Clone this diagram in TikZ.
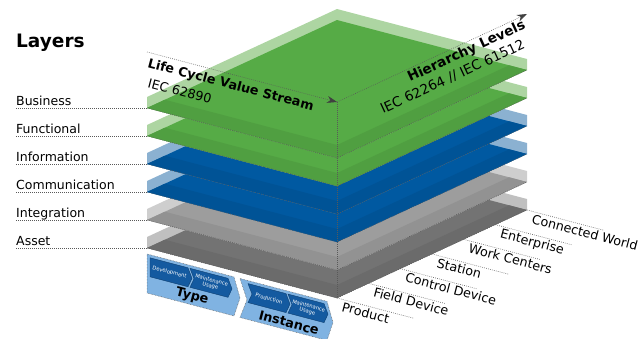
\documentclass[tikz,border=0pt]{standalone}
\usepackage{fontspec}
\setmainfont{DejaVu Sans}
\usetikzlibrary{arrows.meta,calc}
\definecolor{gmed}{RGB}{86,171,70}
\definecolor{glight}{RGB}{173,213,162}
\definecolor{bmed}{RGB}{0,89,161}
\definecolor{blight}{RGB}{139,177,209}
\definecolor{imed}{RGB}{157,157,157}
\definecolor{ilight}{RGB}{206,206,206}
\definecolor{amed}{RGB}{115,115,115}
\definecolor{alight}{RGB}{192,192,192}
\definecolor{chev}{RGB}{128,179,226}
\definecolor{chevdark}{RGB}{20,90,160}
\begin{document}
\begin{tikzpicture}[x=1pt,y=-1pt,
  dotline/.style={draw=black!65, line width=0.6pt, dash pattern=on 0.7pt off 1.3pt},
  axisarrow/.style={dotline, -{Stealth[length=10pt,width=7pt,color=black!75]}},
  lbl/.style={inner sep=0pt, font=\fontsize{12.5}{14}\selectfont},
  hlbl/.style={inner sep=0pt, font=\fontsize{12.7}{14}\selectfont, anchor=base west, rotate=-14.75},
  axbold/.style={inner sep=0pt, font=\bfseries\fontsize{12.8}{14}\selectfont},
  chevout/.style={fill=chev, draw=black!60, line width=0.5pt, dash pattern=on 0.6pt off 0.9pt},
  chevin/.style={fill=chevdark, draw=chevdark!70!black, line width=0.4pt},
  tiny/.style={inner sep=0pt, text=white, align=center, font=\fontsize{5.2}{5.6}\selectfont, rotate=-14.75},
]
\useasboundingbox (0,0) rectangle (643,338);

% layers, bottom first
\foreach \i/\lc/\mc in {5/alight/amed, 4/ilight/imed, 3/blight/bmed, 2/blight/bmed, 1/glight/gmed, 0/glight/gmed} {
  \pgfmathsetmacro\d{28*\i}
  \coordinate (L\i) at (147,108+\d);
  \coordinate (B\i) at (337,20+\d);
  \coordinate (R\i) at (527,70+\d);
  \coordinate (F\i) at (337,158+\d);
  \fill[\lc] (147,97+\d) -- (337,9+\d) -- (527,59+\d) -- (R\i) -- (F\i) -- (L\i) -- cycle;
  \fill[\mc] (L\i) -- (B\i) -- (R\i) -- (F\i) -- cycle;
  \begin{scope}
    \clip (L\i) -- (B\i) -- (R\i) -- (F\i) -- cycle;
    \fill[\mc!93!black] (L\i) -- (F\i) -- (R\i) -- ++(0,-13) -- ($(F\i)+(0,-13)$) -- ($(L\i)+(0,-13)$) -- cycle;
  \end{scope}
  \draw[dotline] (L\i) -- (F\i) -- (R\i);
}

% axes
\coordinate (A0) at (147,52);
\coordinate (O) at (337,102);
\coordinate (H) at (527,14);
\draw[dotline] (O) -- (F5);
\draw[axisarrow] (A0) -- (O);
\draw[axisarrow] (O) -- (H);

\node[axbold, anchor=base west, rotate=-14.75] (lcvs) at (147,67) {Life Cycle Value Stream};
\node[lbl, anchor=base west, rotate=-14.75, font=\fontsize{12.7}{14}\selectfont] (iec1) at (147,87) {IEC 62890};
\node[axbold, anchor=base west, rotate=24.85, font=\bfseries\fontsize{13.6}{15}\selectfont] (hl) at (410,82) {Hierarchy Levels};
\node[lbl, anchor=base west, rotate=24.85, font=\fontsize{13.6}{15}\selectfont] (iec2) at (383,114) {IEC 62264 // IEC 61512};

% title and layer labels
\node[inner sep=0pt, anchor=base west, font=\bfseries\fontsize{18.5}{20}\selectfont] (title) at (16,47) {Layers};
\foreach \i/\t in {0/Business,1/Functional,2/Information,3/Communication,4/Integration,5/Asset} {
  \node[lbl, anchor=base west] (lab\i) at (16,105+28*\i) {\t};
  \coordinate (ls\i) at (16,108+28*\i);
  \draw[dotline] (ls\i) -- (L\i);
}

% hierarchy level labels
\foreach \k/\t in {0/Product,1/Field Device,2/Control Device,3/Station,4/Work Centers,5/Enterprise,6/Connected World} {
  \coordinate (P\k) at ($(F5)!\k/6!(R5)$);
  \coordinate (Q\k) at ($(P\k)+(77,20.3)$);
  \draw[dotline] (P\k) -- (Q\k);
  \node[hlbl] (h\k) at ($(P\k)+(4,13)$) {\t};
}

% life cycle chevrons
\begin{scope}[shift={(147,254)}, yslant=-0.2632]
  \draw[chevout] (0,0) -- (87,0) -- (93,19.5) -- (87,39) -- (0,39) -- cycle;
  \draw[chevin] (3,3) -- (41,3) -- (45,12.5) -- (41,22) -- (3,22) -- cycle;
  \draw[chevin] (43,3) -- (81,3) -- (85,12.5) -- (81,22) -- (43,22) -- (47,12.5) -- cycle;
  \node[tiny] (dev) at (22.5,12.5) {Development};
  \node[tiny] (mu1) at (64,12.5) {Maintenance\\Usage};
  \node[inner sep=0pt, rotate=-14.75, font=\bfseries\fontsize{12.8}{14}\selectfont] (type) at (45,30.5) {Type};

  \draw[chevout] (93,0) -- (180,0) -- (186,19.5) -- (180,39) -- (93,39) -- (100,19.5) -- cycle;
  \draw[chevin] (101,3) -- (139,3) -- (143,12.5) -- (139,22) -- (101,22) -- (105,12.5) -- cycle;
  \draw[chevin] (141,3) -- (177,3) -- (181,12.5) -- (177,22) -- (141,22) -- (145,12.5) -- cycle;
  \node[tiny] (prod) at (122,12.5) {Production};
  \node[tiny] (mu2) at (161,12.5) {Maintenance\\Usage};
  \node[inner sep=0pt, rotate=-14.75, font=\bfseries\fontsize{12.8}{14}\selectfont] (inst) at (142,31.5) {Instance};
\end{scope}
\end{tikzpicture}
\end{document}
